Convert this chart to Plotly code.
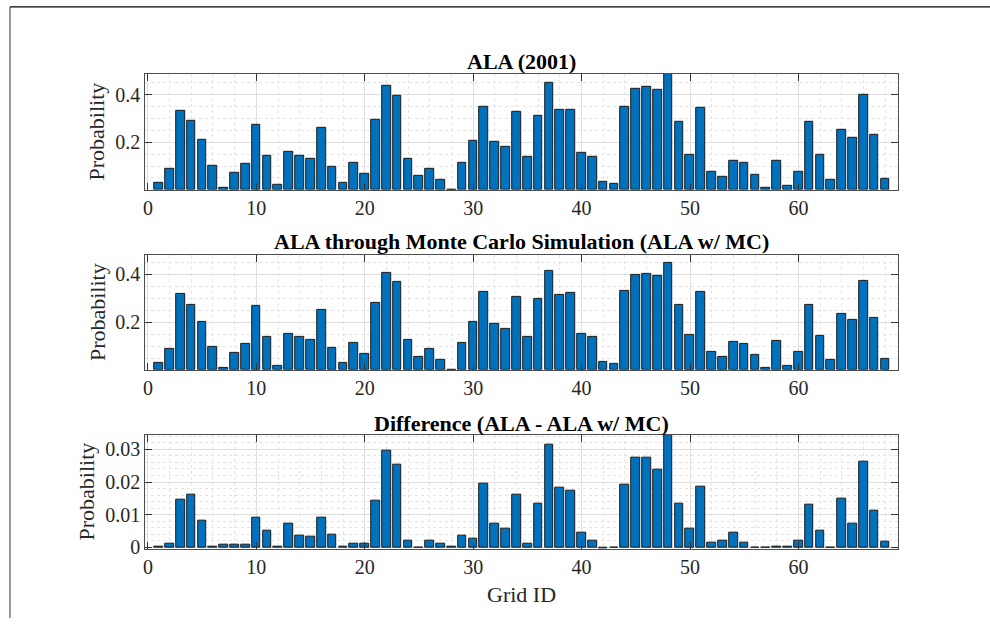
import plotly.graph_objects as go

grid_id = list(range(1, 69))

ala = [0.028, 0.088, 0.333, 0.290, 0.210, 0.099, 0.008, 0.070, 0.109, 0.275,
       0.142, 0.021, 0.160, 0.142, 0.132, 0.261, 0.098, 0.028, 0.112, 0.066,
       0.295, 0.437, 0.396, 0.130, 0.057, 0.090, 0.041, 0.001, 0.115, 0.206,
       0.348, 0.200, 0.179, 0.326, 0.138, 0.311, 0.449, 0.335, 0.338, 0.157,
       0.139, 0.032, 0.026, 0.349, 0.425, 0.432, 0.418, 0.487, 0.284, 0.149,
       0.346, 0.075, 0.055, 0.123, 0.112, 0.063, 0.010, 0.121, 0.018, 0.076,
       0.286, 0.148, 0.043, 0.250, 0.217, 0.399, 0.229, 0.048]

ala_mc = [0.029, 0.089, 0.317, 0.273, 0.201, 0.098, 0.008, 0.071, 0.108, 0.266,
          0.137, 0.020, 0.153, 0.138, 0.128, 0.250, 0.093, 0.029, 0.112, 0.066,
          0.280, 0.405, 0.369, 0.127, 0.056, 0.089, 0.041, 0.001, 0.112, 0.202,
          0.326, 0.192, 0.172, 0.307, 0.137, 0.296, 0.415, 0.315, 0.321, 0.153,
          0.137, 0.034, 0.027, 0.329, 0.396, 0.403, 0.393, 0.446, 0.270, 0.145,
          0.326, 0.075, 0.055, 0.119, 0.111, 0.064, 0.011, 0.121, 0.019, 0.075,
          0.272, 0.143, 0.044, 0.235, 0.209, 0.373, 0.216, 0.048]

diff = [0.0002, 0.0011, 0.0145, 0.0160, 0.0082, 0.0001, 0.0007, 0.0007, 0.0008, 0.0092,
        0.0050, 0.0002, 0.0072, 0.0036, 0.0034, 0.0092, 0.0038, 0.0002, 0.0012, 0.0010,
        0.0144, 0.0297, 0.0252, 0.0019, -0.0002, 0.0021, 0.0010, 0.0001, 0.0035, 0.0025,
        0.0195, 0.0072, 0.0057, 0.0160, 0.0012, 0.0133, 0.0315, 0.0182, 0.0173, 0.0046,
        0.0020, -0.0003, -0.0001, 0.0193, 0.0276, 0.0276, 0.0239, 0.0345, 0.0134, 0.0057,
        0.0187, 0.0013, 0.0019, 0.0044, 0.0013, -0.0001, -0.0001, 0.0003, 0.0002, 0.0020,
        0.0131, 0.0052, -0.0001, 0.0150, 0.0072, 0.0263, 0.0113, 0.0016]

titles = ["ALA (2001)",
          "ALA through Monte Carlo Simulation (ALA w/ MC)",
          "Difference (ALA - ALA w/ MC)"]
x_label = "Grid ID"
y_label = "Probability"

W, H = 990, 628
FONT = "Liberation Serif"
BAR_COLOR = "#0072BD"

xl, xr = 143.5, 898.0
panels_px = [(75.0, 192.7), (259.0, 375.7), (441.7, 557.5)]

fig = go.Figure()

series = [ala, ala_mc, diff]
yranges = [[0.001, 0.487], [0.002, 0.480], [-0.0004, 0.0345]]
ytickvals = [[0.2, 0.4], [0.2, 0.4], [0, 0.01, 0.02, 0.03]]
yticktext = [["0.2", "0.4"], ["0.2", "0.4"], ["0", "0.01", "0.02", "0.03"]]
yminor = [0.05, 0.05, 0.002]

for i, vals in enumerate(series):
    n = i + 1
    xa = "x" if n == 1 else f"x{n}"
    ya = "y" if n == 1 else f"y{n}"
    fig.add_trace(go.Bar(
        x=grid_id, y=vals, xaxis=xa, yaxis=ya, width=0.8,
        marker=dict(color=BAR_COLOR, line=dict(color="#1a1a1a", width=1)),
        showlegend=False,
    ))
    top, bot = panels_px[i]
    axis_common = dict(
        showline=True, linecolor="#4d4d4d", linewidth=1, mirror="ticks",
        ticks="inside", ticklen=7, tickcolor="#333333",
        tickfont=dict(family=FONT, size=20, color="#262626"),
        showgrid=True, gridcolor="#dedede", gridwidth=1,
        zeroline=False,
    )
    xaxis = dict(
        domain=[xl / W, xr / W], range=[-0.25, 69.2], anchor=ya,
        tickmode="linear", tick0=0, dtick=10,
        minor=dict(dtick=2, tick0=0, showgrid=True, gridcolor="#e4e4e4",
                   griddash="dot", gridwidth=1, ticks=""),
        **axis_common,
    )
    yaxis = dict(
        domain=[1 - bot / H, 1 - top / H], range=yranges[i], anchor=xa,
        tickmode="array", tickvals=ytickvals[i], ticktext=yticktext[i],
        minor=dict(dtick=yminor[i], tick0=0, showgrid=True, gridcolor="#e4e4e4",
                   griddash="dot", gridwidth=1, ticks=""),
        **axis_common,
    )
    fig.update_layout({f"xaxis{'' if n == 1 else n}": xaxis,
                       f"yaxis{'' if n == 1 else n}": yaxis})

title_y_px = [62, 245, 430]
ylabel_x_px = [95, 95, 85]
annotations = []
for i, t in enumerate(titles):
    annotations.append(dict(
        text=f"<b>{t}</b>", xref="paper", yref="paper",
        x=(xl + xr) / 2 / W, y=1 - title_y_px[i] / H,
        xanchor="center", yanchor="middle", showarrow=False,
        font=dict(family=FONT, size=22, color="#000000"),
    ))
    top, bot = panels_px[i]
    annotations.append(dict(
        text=y_label, xref="paper", yref="paper",
        x=ylabel_x_px[i] / W, y=1 - (top + bot) / 2 / H, textangle=-90,
        xanchor="center", yanchor="middle", showarrow=False,
        font=dict(family=FONT, size=22, color="#262626"),
    ))
annotations.append(dict(
    text=x_label, xref="paper", yref="paper",
    x=(xl + xr) / 2 / W, y=1 - 604 / H,
    xanchor="center", yanchor="middle", showarrow=False,
    font=dict(family=FONT, size=22, color="#262626"),
))

shapes = [
    dict(type="line", xref="paper", yref="paper",
         x0=8 / W, y0=1 - 7 / H, x1=1, y1=1 - 7 / H,
         line=dict(color="#000000", width=1.2)),
    dict(type="line", xref="paper", yref="paper",
         x0=8 / W, y0=1 - 7 / H, x1=8 / W, y1=0,
         line=dict(color="#333333", width=1)),
]

fig.update_layout(
    width=W, height=H,
    margin=dict(l=0, r=0, t=0, b=0),
    paper_bgcolor="white", plot_bgcolor="white",
    bargap=0, annotations=annotations, shapes=shapes,
    font=dict(family=FONT),
)

fig.write_html("out.html")
